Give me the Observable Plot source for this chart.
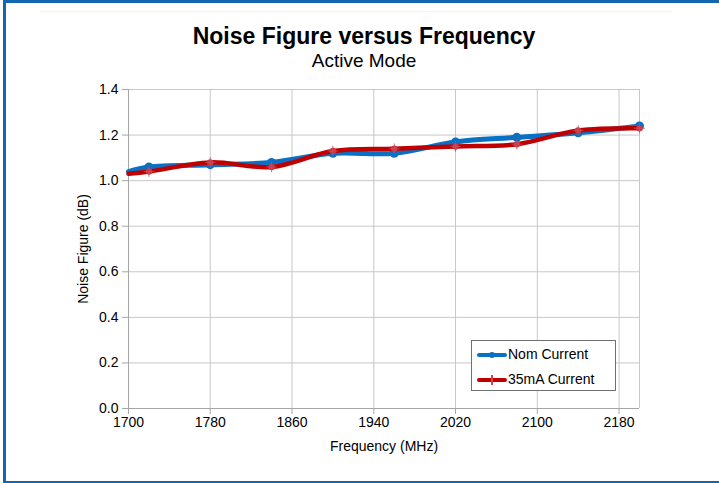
<!DOCTYPE html>
<html>
<head>
<meta charset="utf-8">
<script src="https://cdn.jsdelivr.net/npm/d3@7"></script>
<script src="https://cdn.jsdelivr.net/npm/@observablehq/plot@0.6"></script>
<style>
  html, body { margin: 0; padding: 0; background: #fff; }
  body { width: 719px; height: 483px; position: relative; overflow: hidden; font-family: "Liberation Sans", Arial, sans-serif; }
  #frame { position: absolute; left: 3px; top: 0; width: 730px; height: 478px; border-left: 3px solid #1267b0; border-top: 3px solid #1267b0; border-bottom: 3px solid #1267b0; box-sizing: content-box; }
  #topline { position: absolute; left: 40px; top: 11px; width: 632px; height: 1px; background: #f2f2f2; }
  #chart { position: absolute; left: 0; top: 0; }
  .title { position: absolute; left: 0; width: 728px; text-align: center; color: #000; }
  #t1 { top: 23px; font-size: 23px; font-weight: bold; }
  #t2 { top: 50px; font-size: 19px; }
  #legend { position: absolute; left: 471px; top: 340px; width: 143px; height: 49px; border: 1px solid #707070; background: #fff; font-size: 14px; color: #000; }
  .entry { position: absolute; left: 0; height: 16px; }
  .entry .ln { position: absolute; left: 5px; width: 30px; height: 4px; top: 7px; border-radius: 2px; }
  .entry .mk { position: absolute; }
  .entry .tx { position: absolute; left: 36px; top: 0; white-space: nowrap; }
</style>
</head>
<body>
<div id="frame"></div>
<div id="topline"></div>
<div id="chart"></div>
<div class="title" id="t1">Noise Figure versus Frequency</div>
<div class="title" id="t2">Active Mode</div>
<div id="legend"></div>
<script>
// ---- data ----
const frequencies = [1700, 1720, 1780, 1840, 1900, 1960, 2020, 2080, 2140, 2200];
const nomCurrent  = [1.04, 1.06, 1.07, 1.08, 1.12, 1.12, 1.17, 1.19, 1.21, 1.24];
const current35mA = [1.03, 1.04, 1.08, 1.06, 1.13, 1.14, 1.15, 1.16, 1.22, 1.23];
const seriesNames = ["Nom Current", "35mA Current"];
const xTicks = [1700, 1780, 1860, 1940, 2020, 2100, 2180];
const yTicks = [0, 0.2, 0.4, 0.6, 0.8, 1.0, 1.2, 1.4];
const xDomain = [1700, 2200];
const yDomain = [0, 1.4];

const blue = "#0a70c4";
const red = "#c00000";

const nomData = frequencies.map((f, i) => ({f, v: nomCurrent[i], s: seriesNames[0]}));
const maData = frequencies.map((f, i) => ({f, v: current35mA[i], s: seriesNames[1]}));
const inner = d => d.f > xDomain[0];

const chart = Plot.plot({
  width: 719,
  height: 483,
  marginLeft: 128,
  marginRight: 80,
  marginTop: 89,
  marginBottom: 75,
  style: {fontFamily: "'Liberation Sans', Arial, sans-serif", fontSize: "14px", color: "#000", background: "transparent"},
  x: {domain: xDomain},
  y: {domain: yDomain},
  marks: [
    Plot.gridX(xTicks, {stroke: "#c8c8c8", strokeOpacity: 1}),
    Plot.gridY(yTicks, {stroke: "#c8c8c8", strokeOpacity: 1}),
    Plot.ruleX([xDomain[1]], {stroke: "#c8c8c8"}),
    Plot.ruleX([xDomain[0]], {stroke: "#a6a6a6"}),
    Plot.ruleY([yDomain[0]], {stroke: "#a6a6a6"}),
    Plot.axisX({ticks: xTicks, tickSize: 6, tickPadding: 3, stroke: "#a6a6a6", fontSize: 14, tickFormat: d => String(d),
      label: "Frequency (MHz)", labelAnchor: "center", labelArrow: "none", labelOffset: 42}),
    Plot.axisY({ticks: yTicks, tickSize: 6, tickPadding: 4, stroke: "#a6a6a6", fontSize: 14, tickFormat: d3.format(".1f"),
      label: "Noise Figure (dB)", labelAnchor: "center", labelArrow: "none", labelOffset: 50}),
    Plot.line(nomData, {x: "f", y: "v", stroke: blue, strokeWidth: 5, curve: "catmull-rom", strokeLinecap: "round"}),
    Plot.dot(nomData, {filter: inner, x: "f", y: "v", r: 4.5, fill: blue, stroke: "none"}),
    Plot.line(maData, {x: "f", y: "v", stroke: red, strokeWidth: 4.5, curve: "catmull-rom", strokeLinecap: "round"}),
    Plot.dot(maData, {filter: inner, x: "f", y: "v", r: 3.2, fill: "#c83a48", stroke: "none"}),
    Plot.dot(maData, {filter: inner, x: "f", y: "v", r: 3.5, symbol: "plus", stroke: "#d04a58", strokeWidth: 1, strokeOpacity: 0.8})
  ]
});
chart.querySelectorAll("[aria-label='x-axis label'] text, [aria-label='y-axis label'] text").forEach(t => t.setAttribute("font-size", "14px"));
document.getElementById("chart").appendChild(chart);

// legend
const legend = document.getElementById("legend");
[[seriesNames[0], blue, 5], [seriesNames[1], red, 30]].forEach(([name, color, top], i) => {
  const e = document.createElement("div");
  e.className = "entry";
  e.style.top = top + "px";
  e.innerHTML = `<div class="ln" style="background:${color}"></div>` +
    (i === 0
      ? `<div class="mk" style="left:17px;top:6px;width:6px;height:6px;border-radius:3px;background:${color}"></div>`
      : `<div class="mk" style="left:19px;top:4px;width:2px;height:10px;background:#d84050"></div>`) +
    `<div class="tx">${name}</div>`;
  legend.appendChild(e);
});
</script>
</body>
</html>
